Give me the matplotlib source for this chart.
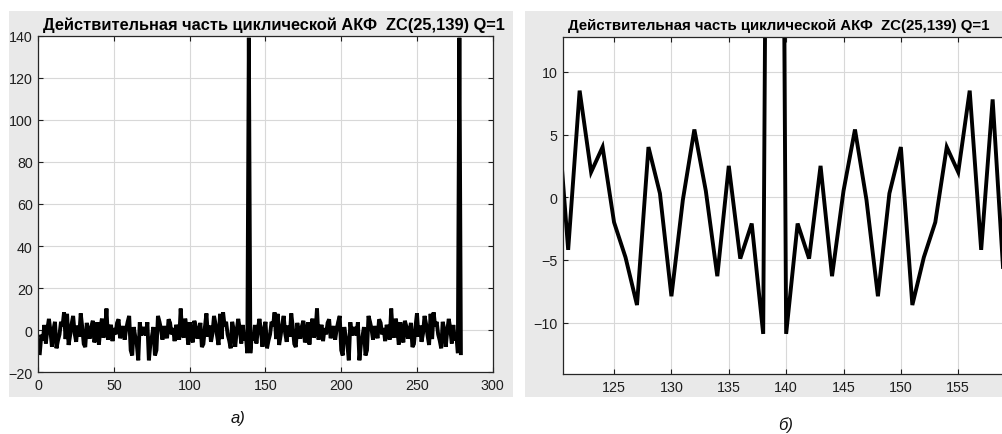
import matplotlib
matplotlib.use("Agg")
import matplotlib.pyplot as plt
from matplotlib.patches import Rectangle

# Real part of the cyclic ACF of ZC(25,139), Q=1: one period, lags 0..138
acf_period = [
    139.0,
    -10.9, -2.1, -4.9, 2.5, -6.3, 0.5, 5.4, -0.2, -7.9, 0.3,
    4.0, -8.6, -4.8, -2.0, 4.0, 2.0, 8.5, -4.2, 7.8, -7.0,
    -2.5, 3.0, 6.8, -1.5, -5.5, 2.2, -3.0, 8.0, 1.5, -6.5,
    -8.0, 3.5, -1.0, -4.0, 1.8, 4.5, -5.8, -2.5, 3.8, -6.8,
    0.8, 5.5, -3.5, -1.2, 10.3, -4.5, -0.8, 2.6, -5.2, 1.0,
    -2.0, 3.5, 5.2, -3.8, -1.5, 2.0, -4.5, 0.5, 4.0, 6.8,
    -9.5, -12.0, 1.5, -3.0, -6.5, -14.3, 3.8, -2.5, 0.8,
    0.8, -2.5, 3.8, -14.3, -6.5, -3.0, 1.5, -12.0, -9.5, 6.8,
    4.0, 0.5, -4.5, 2.0, -1.5, -3.8, 5.2, 3.5, -2.0, 1.0,
    -5.2, 2.6, -0.8, -4.5, 10.3, -1.2, -3.5, 5.5, 0.8, -6.8,
    3.8, -2.5, -5.8, 4.5, 1.8, -4.0, -1.0, 3.5, -8.0, -6.5,
    1.5, 8.0, -3.0, 2.2, -5.5, -1.5, 6.8, 3.0, -2.5, -7.0,
    7.8, -4.2, 8.5, 2.0, 4.0, -2.0, -4.8, -8.6, 4.0, 0.3,
    -7.9, -0.2, 5.4, 0.5, -6.3, 2.5, -4.9, -2.1, -10.9,
]

# Sample indices 1..279 cover two periods (peaks at 139 and 278)
acf_values = acf_period[1:] + acf_period[:1] + acf_period[1:] + acf_period[:2]
acf_index = list(range(1, len(acf_values) + 1))

title_text = "Действительная часть циклической АКФ  ZC(25,139) Q=1"
panel_labels = ["а)", "б)"]

left_xticks = [0, 50, 100, 150, 200, 250, 300]
left_yticks = [-20, 0, 20, 40, 60, 80, 100, 120, 140]
right_xticks = [125, 130, 135, 140, 145, 150, 155]
right_yticks = [-10, -5, 0, 5, 10]

plt.rcParams["font.family"] = ["Liberation Sans", "DejaVu Sans"]

W, H = 1003, 435
fig = plt.figure(figsize=(W / 100, H / 100), dpi=100)
fig.patch.set_facecolor("white")

panel_bg = "#e9e9e9"
fig.add_artist(Rectangle((9 / W, 1 - 398 / H), (513 - 9) / W, (398 - 12) / H,
                         transform=fig.transFigure, facecolor=panel_bg,
                         edgecolor="none", zorder=0))
fig.add_artist(Rectangle((525 / W, 1 - 398 / H), (1010 - 525) / W, (398 - 12) / H,
                         transform=fig.transFigure, facecolor=panel_bg,
                         edgecolor="none", zorder=0))

ax1 = fig.add_axes([38.3 / W, 1 - 373.3 / H, 454.4 / W, 336.6 / H])
ax2 = fig.add_axes([563 / W, 1 - 375 / H, 448 / W, 337.3 / H])


def style(ax):
    ax.set_facecolor("white")
    ax.grid(True, color="#d8d8d8", linewidth=0.8)
    ax.set_axisbelow(True)
    ax.tick_params(direction="in", length=3.5, width=0.8, top=True, right=True,
                   labelsize=10.3, colors="#1e1e1e", pad=4)
    for s in ax.spines.values():
        s.set_color("#262626")
        s.set_linewidth(0.9)


ax1.plot(acf_index, acf_values, color="black", linewidth=2.8, solid_joinstyle="miter")
ax1.set_xlim(0, 300)
ax1.set_ylim(-20, 140)
ax1.set_xticks(left_xticks)
ax1.set_yticks(left_yticks)
style(ax1)

ax2.plot(acf_index, acf_values, color="black", linewidth=2.8, solid_joinstyle="miter")
ax2.set_xlim(120.55, 159.6)
ax2.set_ylim(-14.1, 12.8)
ax2.set_xticks(right_xticks)
ax2.set_yticks(right_yticks)
style(ax2)

ax1.text(0.011, 1.02, title_text, transform=ax1.transAxes, ha="left",
         va="baseline", fontsize=11.8, fontweight="bold", color="black")
ax2.text(0.0105, 1.023, title_text, transform=ax2.transAxes, ha="left",
         va="baseline", fontsize=10.8, fontweight="bold", color="black")

fig.text(238 / W, 1 - 419 / H, panel_labels[0], ha="center", va="center",
         fontsize=12, style="italic", color="#111111")
fig.text(786 / W, 1 - 425 / H, panel_labels[1], ha="center", va="center",
         fontsize=12, style="italic", color="#111111")

fig.savefig("out.png", dpi=100, facecolor="white")
